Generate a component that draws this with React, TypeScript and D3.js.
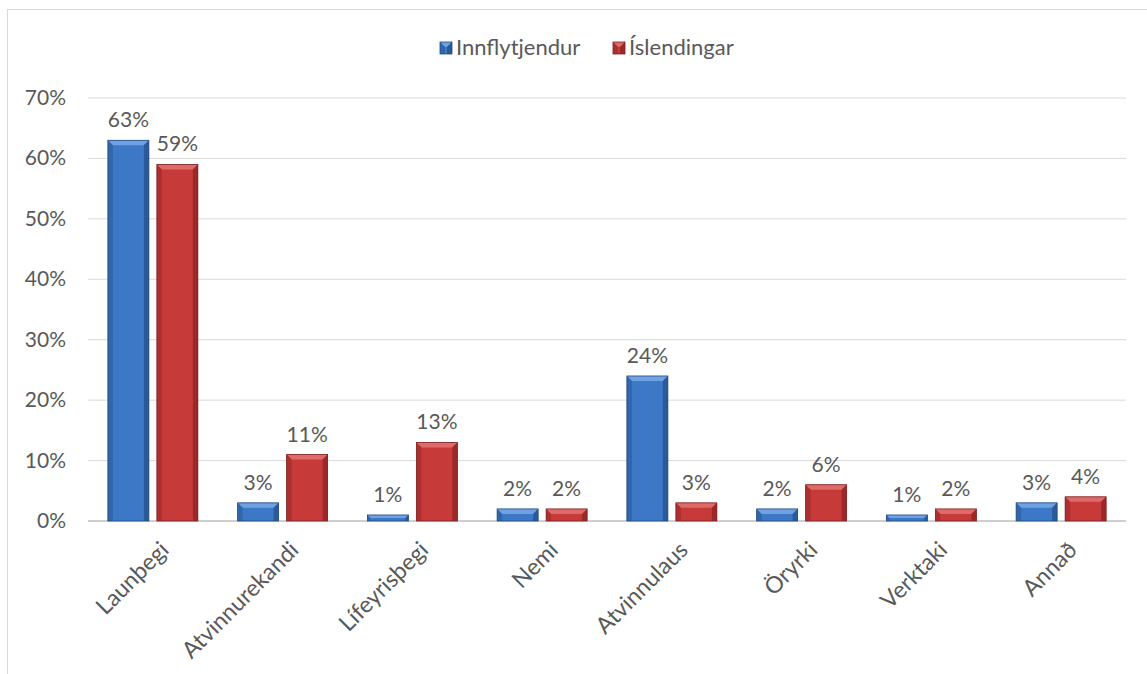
import React from 'react';
import * as d3 from 'd3';

const categories = ['Launþegi', 'Atvinnurekandi', 'Lífeyrisþegi', 'Nemi', 'Atvinnulaus', 'Öryrki', 'Verktaki', 'Annað'];
const innflytjendur = [63, 3, 1, 2, 24, 2, 1, 3];
const islendingar = [59, 11, 13, 2, 3, 6, 2, 4];
const seriesNames = ['Innflytjendur', 'Íslendingar'];
const yTicks = [0, 10, 20, 30, 40, 50, 60, 70];

const W = 1147;
const H = 674;
const FONT = 'Lato, "Open Sans", sans-serif';
const TXT = '#595959';
const FS = 21;

const palette = [
  { main: '#3d78c6', light: '#6fa2e2', dark: '#2b5a99', edge: '#24497d' },
  { main: '#c73a3a', light: '#e06a6a', dark: '#9a2a2a', edge: '#7d2222' },
];

// bar with a bevelled look
function Bevel({ x, y, w, h, c }: { x: number; y: number; w: number; h: number; c: typeof palette[0] }) {
  const b = Math.min(5, h / 2, w / 2);
  return (
    <g>
      <rect x={x} y={y} width={w} height={h} fill={c.main} />
      <polygon points={`${x},${y} ${x + w},${y} ${x + w - b},${y + b} ${x + b},${y + b}`} fill={c.light} />
      <polygon points={`${x},${y} ${x + b},${y + b} ${x + b},${y + h} ${x},${y + h}`} fill={c.dark} opacity={0.6} />
      <polygon points={`${x + w},${y} ${x + w - b},${y + b} ${x + w - b},${y + h} ${x + w},${y + h}`} fill={c.dark} />
      <rect x={x} y={y} width={w} height={h} fill="none" stroke={c.edge} strokeWidth={0.8} />
    </g>
  );
}

export default function App() {
  const x0 = d3.scaleBand<string>().domain(categories).range([88, 1126]);
  const y = d3.scaleLinear().domain([0, 70]).range([521, 98]);
  const barW = 41;
  const gap = 8;

  const series = [innflytjendur, islendingar];

  return (
    <svg width={W} height={H} style={{ position: 'absolute', left: 0, top: 0, display: 'block' }} fontFamily={FONT}>
      <rect x={0} y={0} width={W} height={H} fill="#fff" />
      <rect x={7.5} y={9.5} width={W + 10} height={H + 10} fill="none" stroke="#d9d9d9" strokeWidth={1} />

      {/* legend */}
      <g fontSize={FS + 1} fill={TXT}>
        {seriesNames.map((n, i) => {
          const lx = i === 0 ? 440 : 613;
          return (
            <g key={n}>
              <Bevel x={lx} y={42} w={12} h={12} c={palette[i]} />
              <text x={lx + 16} y={55}>{n}</text>
            </g>
          );
        })}
      </g>

      {/* grid + y axis */}
      {yTicks.map(t => (
        <g key={t}>
          <line x1={88} x2={1126} y1={y(t)} y2={y(t)} stroke={t === 0 ? '#bfbfbf' : '#d9d9d9'} strokeWidth={t === 0 ? 1.5 : 1} />
          <text x={66} y={y(t) + 7} fontSize={FS} fill={TXT} textAnchor="end">{t}%</text>
        </g>
      ))}

      {/* bars */}
      {categories.map((cat, ci) => {
        const cx = x0(cat)! + x0.bandwidth() / 2;
        return (
          <g key={cat}>
            {series.map((s, si) => {
              const bx = si === 0 ? cx - gap / 2 - barW : cx + gap / 2;
              const top = y(s[ci]);
              return (
                <g key={si}>
                  <Bevel x={bx} y={top} w={barW} h={y(0) - top} c={palette[si]} />
                  <text x={bx + barW / 2} y={top - 13} fontSize={FS} fill={TXT} textAnchor="middle">{s[ci]}%</text>
                </g>
              );
            })}
            <text
              transform={`translate(${cx + 6},${540}) rotate(-45)`}
              fontSize={23}
              fill={TXT}
              textAnchor="end"
              dy="0.7em"
            >{cat}</text>
          </g>
        );
      })}
    </svg>
  );
}
